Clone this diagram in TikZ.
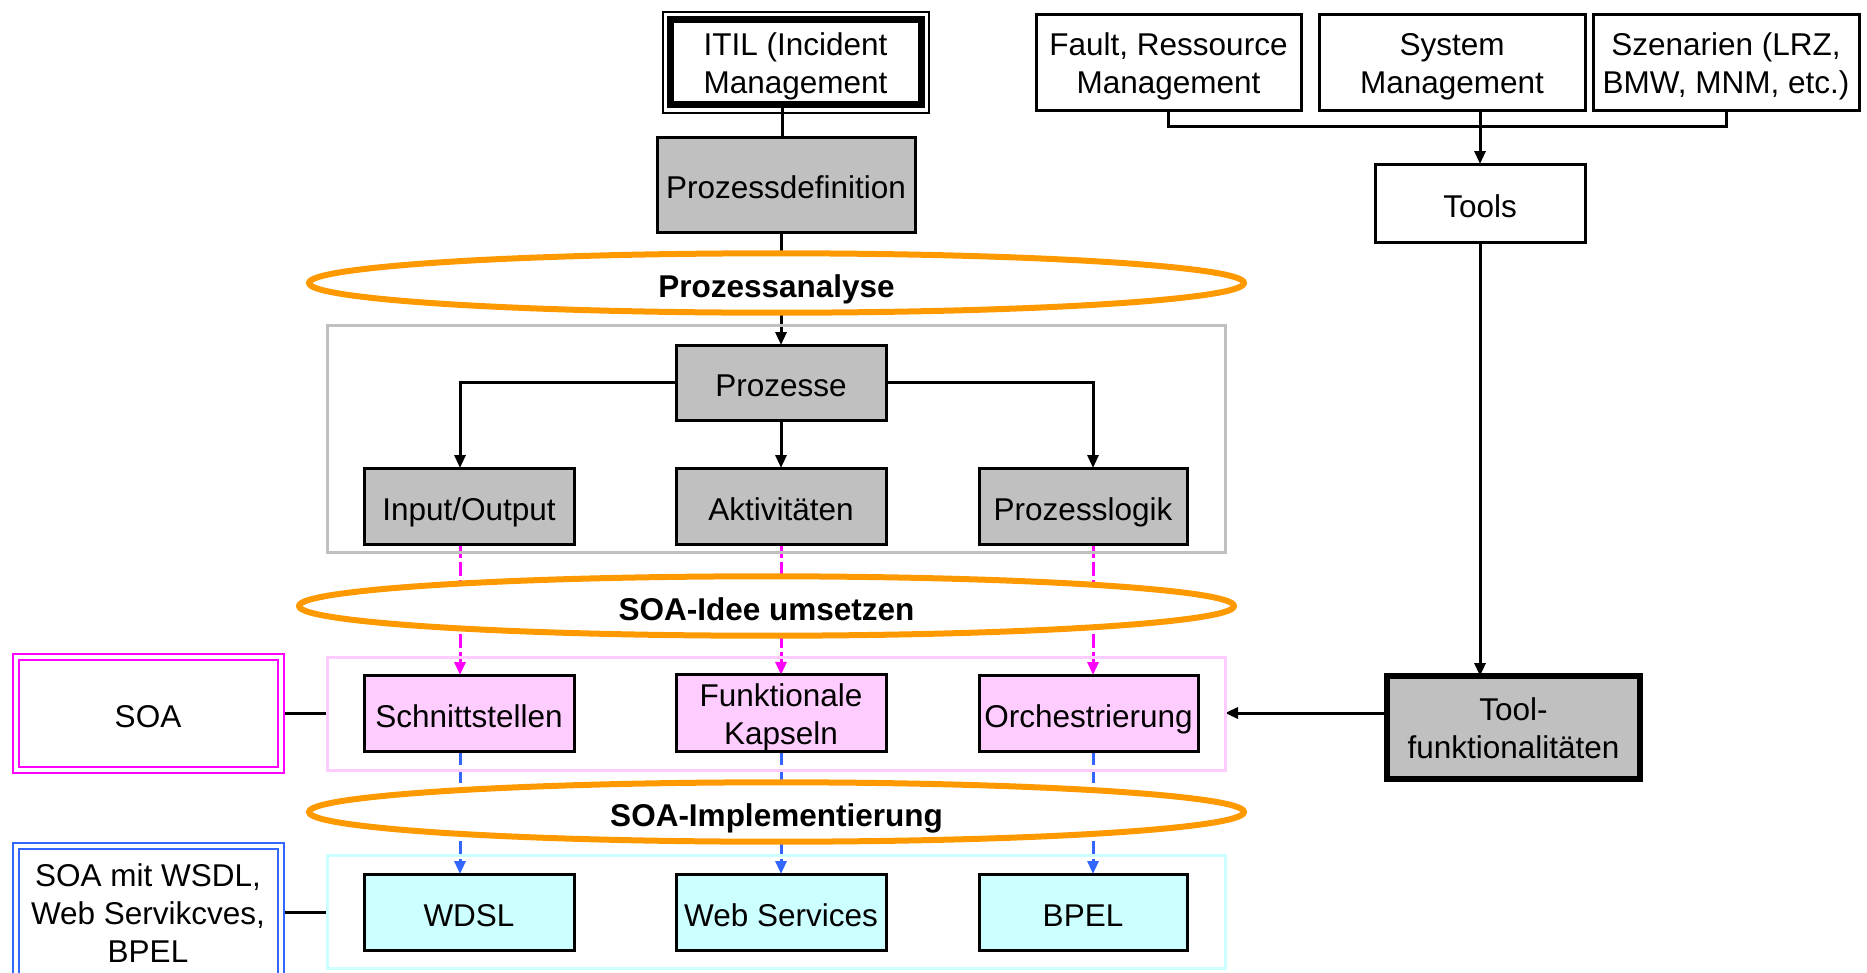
\documentclass[tikz,border=0pt]{standalone}
\usepackage{fontspec}
\setmainfont{Liberation Sans}
\usetikzlibrary{arrows.meta,shapes.geometric}
\pgfdeclarelayer{bg}
\pgfsetlayers{bg,main}
\definecolor{boxgray}{HTML}{C0C0C0}
\definecolor{softpink}{HTML}{FFCCFF}
\definecolor{softcyan}{HTML}{CCFFFF}
\definecolor{ovalorange}{HTML}{FF9900}
\definecolor{linkblue}{HTML}{3366FF}
\definecolor{linkmagenta}{HTML}{FF00FF}
% uniform line box for labels with several lines
\newcommand\lnbox{\rule[-6.7pt]{0pt}{38pt}}

\begin{document}
\begin{tikzpicture}[x=1pt,y=-1pt,
  % fixed height and depth keep one-line labels evenly centred
  every node/.style={inner sep=0pt, outer sep=0pt, align=center,
    font=\fontsize{31.5}{38}\selectfont,
    execute at begin node={\rule{0pt}{35pt}},
    execute at end node={\rule[-7pt]{0pt}{7pt}}},
  multi/.style={execute at begin node={}, execute at end node={}},
  box/.style={draw, line width=3pt, fill=white, minimum height=76pt},
  graybox/.style={box, fill=boxgray},
  pinkbox/.style={box, fill=softpink},
  cyanbox/.style={box, fill=softcyan},
  group/.style={draw=#1, line width=3pt},
  oval/.style={ellipse, draw=ovalorange, line width=6pt, fill=white,
    minimum width=935pt, font=\fontsize{31.5}{38}\selectfont\bfseries},
  conn/.style={line width=3pt},
  arr/.style={conn, -{Triangle[length=13pt,width=11pt]}},
  dlink/.style={line width=3pt, draw=#1, dash pattern=on 14pt off 4pt,
    -{Triangle[length=13pt,width=11pt]}},
  legend/.style={draw=#1, double=white, line width=2pt, double distance=4pt,
    fill=white, minimum width=265pt},
]
\useasboundingbox (0,0) rectangle (1867,972);
\clip (0,0) rectangle (1867,972);

% vertical guides of the three columns
\coordinate (colL) at (460,0);
\coordinate (colM) at (781,0);
\coordinate (colR) at (1093,0);
\coordinate (spine) at (782,0);

% --- process chain ---
\node[box, multi, line width=7pt, minimum width=251pt, minimum height=85pt] (itil) at (795.5,62) {\lnbox ITIL (Incident\\\lnbox Management};
\draw[line width=2pt] ([shift={(-7.5,-8)}]itil.north west) rectangle ([shift={(7.5,8)}]itil.south east);

\node[graybox, minimum width=258pt, minimum height=95pt] (pdef) at (786,184.5) {Prozessdefinition};
\node[oval, minimum height=54pt] (pa) at (776.5,283) {Prozessanalyse};

\node[group=boxgray, minimum width=898pt, minimum height=227pt] (grpP) at (776,438.5) {};
\node[graybox, minimum width=210pt, minimum height=75pt] (proz) at (781,382.5) {Prozesse};
\node[graybox, minimum width=210pt] (io) at (469,506) {Input/Output};
\node[graybox, minimum width=210pt] (akt) at (781,506) {Aktivitäten};
\node[graybox, minimum width=208pt] (plog) at (1083,506) {Prozesslogik};

\node[oval, minimum height=58pt] (idee) at (766.5,606) {SOA-Idee umsetzen};

\node[group=softpink, minimum width=898pt, minimum height=113pt] (grpS) at (776,713.5) {};
\node[pinkbox, minimum width=210pt] (schn) at (469,713) {Schnittstellen};
\node[pinkbox, multi, minimum width=210pt] (fk) at (781,713) {\lnbox Funktionale\\\lnbox Kapseln};
\node[pinkbox, minimum width=219pt] (orch) at (1088.5,713) {Orchestrierung};

\node[oval, minimum height=58pt] (impl) at (776.5,812) {SOA-Implementierung};

\node[group=softcyan, minimum width=898pt, minimum height=113pt] (grpW) at (776,911.5) {};
\node[cyanbox, minimum width=210pt] (wdsl) at (469,912) {WDSL};
\node[cyanbox, minimum width=210pt] (ws) at (781,912) {Web Services};
\node[cyanbox, minimum width=208pt] (bpel) at (1083,912) {BPEL};

% --- legend boxes on the left ---
\node[legend=linkmagenta, minimum height=113pt] (soa) at (148,713.5) {SOA};
\node[legend=linkblue, multi, minimum height=132pt] (soaw) at (148,912) {\lnbox SOA mit WSDL,\\\lnbox Web Servikcves,\\\lnbox BPEL};

% --- tool side ---
\node[box, multi, minimum width=265pt, minimum height=96pt] (fault) at (1168.5,62) {\lnbox Fault, Ressource\\\lnbox Management};
\node[box, multi, minimum width=266pt, minimum height=96pt] (sys) at (1452,62) {\lnbox System\\\lnbox Management};
\node[box, multi, minimum width=266pt, minimum height=96pt] (szen) at (1726,62) {\lnbox Szenarien (LRZ,\\\lnbox BMW, MNM, etc.)};
\node[box, minimum width=210pt, minimum height=78pt] (tools) at (1480,203) {Tools};
\node[graybox, multi, line width=5.5pt, minimum width=253pt, minimum height=103pt] (tf) at (1513.5,727.5) {\lnbox Tool-\\\lnbox funktionalitäten};

\coordinate (jn) at (1480,126);

% --- connectors, kept behind the boxes and ovals ---
\begin{pgfonlayer}{bg}
  \draw[conn] (itil.south -| spine) -- (pdef.north -| spine);
  \draw[arr] (pdef.south -| colM) -- (proz.north);
  \draw[arr] (proz.west) -| (io.north -| colL);
  \draw[arr] (proz.south) -- (akt.north);
  \draw[arr] (proz.east) -| (plog.north -| colR);
  \foreach \a/\b/\c in {io/schn/colL, akt/fk/colM, plog/orch/colR}
    \draw[dlink=linkmagenta] (\a.south -| \c) -- (\b.north -| \c);
  \foreach \a/\b/\c in {schn/wdsl/colL, fk/ws/colM, orch/bpel/colR}
    \draw[dlink=linkblue] (\a.south -| \c) -- (\b.north -| \c);
  \draw[conn] (soa.east) -- (grpS.west);
  \draw[conn] (soaw.east |- 0,912) -- (grpW.west |- 0,912);
  \draw[conn] (fault.south) |- (jn) -| (szen.south);
  \draw[arr] (sys.south -| jn) -- (tools.north -| jn);
  \draw[arr] (tools.south) -- (tools.south |- tf.north);
  \draw[arr] (tf.west |- 0,713) -- (grpS.east |- 0,713);
\end{pgfonlayer}
\end{tikzpicture}
\end{document}
